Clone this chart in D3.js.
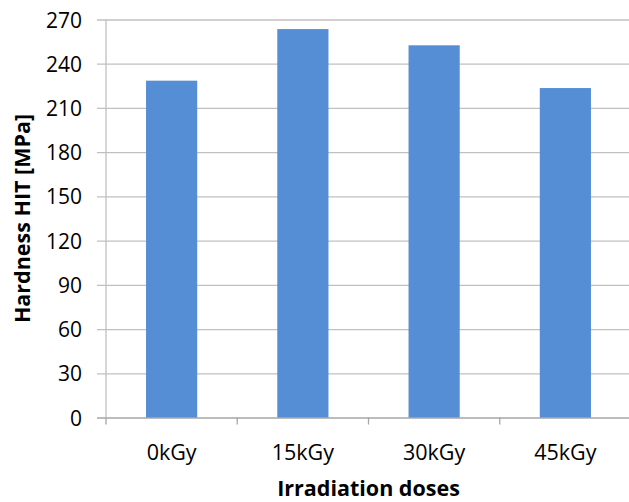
<!DOCTYPE html>
<html>
<head>
<meta charset="utf-8">
<script src="https://cdn.jsdelivr.net/npm/d3@7"></script>
<style>
  html, body { margin: 0; padding: 0; background: #fff; }
  svg text { font-family: "Open Sans", "Noto Sans", sans-serif; fill: #000; }
</style>
</head>
<body>
<div id="chart"></div>
<script>
// dữ liệu
const categories = ["0kGy", "15kGy", "30kGy", "45kGy"];
const hardness = [228.5, 263.5, 252.5, 223.5];
const yTicks = [0, 30, 60, 90, 120, 150, 180, 210, 240, 270];

const W = 629, H = 502;
const margin = { top: 19.5, right: -2, bottom: 84.5, left: 106 };
const innerW = W - margin.left - margin.right;
const innerH = H - margin.top - margin.bottom;

const svg = d3.select("#chart").append("svg")
  .attr("width", W)
  .attr("height", H);

const g = svg.append("g")
  .attr("transform", `translate(${margin.left},${margin.top})`);

const x = d3.scaleBand()
  .domain(categories)
  .range([0, innerW])
  .paddingInner(0.61)
  .paddingOuter(0.305);

const y = d3.scaleLinear()
  .domain([0, 270])
  .range([innerH, 0]);

// lưới ngang + vạch trục Y
const yAxis = g.append("g")
  .call(d3.axisLeft(y).tickValues(yTicks).tickSize(-innerW - 9).tickSizeOuter(0))
  .attr("transform", "translate(-9,0)");
yAxis.select(".domain").remove();
yAxis.selectAll("line")
  .attr("x2", innerW + 9)
  .attr("stroke", d => d === 0 ? "#a6a6a6" : "#c0c0c0")
  .attr("stroke-width", 1.3);
yAxis.selectAll("text")
  .attr("x", -15)
  .attr("dy", "0.36em")
  .style("font-size", "21px")
  .style("font-family", "'Open Sans', sans-serif")
  .style("fill", "#000");

// trục dọc
g.append("line")
  .attr("x1", 0).attr("x2", 0)
  .attr("y1", 0).attr("y2", innerH)
  .attr("stroke", "#c0c0c0")
  .attr("stroke-width", 1.3);

// vạch ranh giới nhóm trên trục X
const step = innerW / categories.length;
g.append("g")
  .selectAll("line")
  .data(d3.range(categories.length + 1))
  .join("line")
    .attr("x1", i => i * step)
    .attr("x2", i => i * step)
    .attr("y1", innerH)
    .attr("y2", innerH + 7)
    .attr("stroke", "#a6a6a6")
    .attr("stroke-width", 1.3);

// cột
g.selectAll(".bar")
  .data(categories.map((c, i) => ({ c, v: hardness[i] })))
  .join("rect")
    .attr("class", "bar")
    .attr("x", d => x(d.c))
    .attr("y", d => y(d.v))
    .attr("width", x.bandwidth())
    .attr("height", d => innerH - y(d.v))
    .attr("fill", "#558ed5");

// nhãn trục X
g.selectAll(".xlab")
  .data(categories)
  .join("text")
    .attr("class", "xlab")
    .attr("x", d => x(d) + x.bandwidth() / 2)
    .attr("y", 460 - margin.top)
    .attr("text-anchor", "middle")
    .style("font-size", "21.5px")
    .text(d => d);

// tiêu đề trục
svg.append("text")
  .attr("x", margin.left + innerW / 2)
  .attr("y", 495.5)
  .attr("text-anchor", "middle")
  .style("font-size", "21.5px")
  .style("font-weight", "bold")
  .text("Irradiation doses");

svg.append("text")
  .attr("transform", `translate(30,${margin.top + innerH / 2}) rotate(-90)`)
  .attr("text-anchor", "middle")
  .style("font-size", "21.5px")
  .style("font-weight", "bold")
  .text("Hardness HIT [MPa]");
</script>
</body>
</html>
